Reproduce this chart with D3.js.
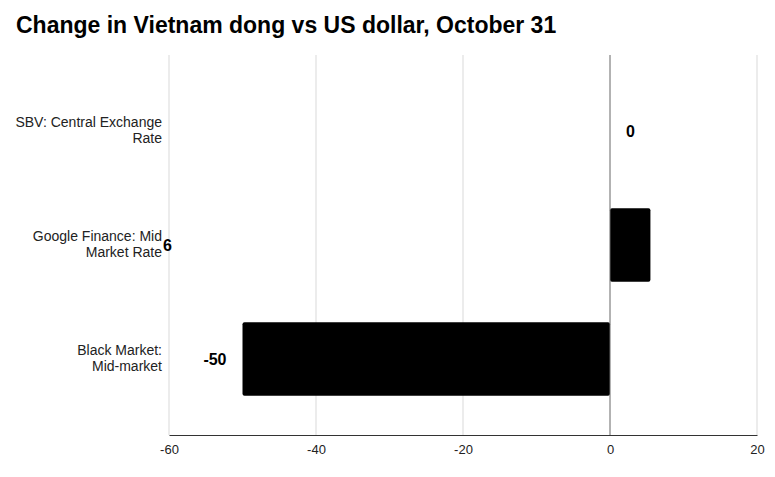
<!DOCTYPE html>
<html>
<head>
<meta charset="utf-8">
<script src="https://cdn.jsdelivr.net/npm/d3@7"></script>
<style>
  html, body { margin: 0; padding: 0; background: #fff; }
  svg { display: block; font-family: "Liberation Sans", Arial, sans-serif; }
</style>
</head>
<body>
<svg id="chart" width="775" height="477"></svg>
<script>
const title = "Change in Vietnam dong vs US dollar, October 31";
const categories = ["SBV: Central Exchange Rate", "Google Finance: Mid Market Rate", "Black Market: Mid-market"];
const values = [0, 5.5, -50];
const valueLabels = ["0", "6", "-50"];
const xTicks = [-60, -40, -20, 0, 20];

const svg = d3.select("#chart");
const plot = { left: 169, right: 757, top: 55, bottom: 435 };

svg.append("text")
  .attr("x", 16).attr("y", 33)
  .attr("font-size", 23).attr("font-weight", "bold").attr("fill", "#000")
  .text(title);

const x = d3.scaleLinear().domain([-60, 20]).range([plot.left, plot.right]);
const y = d3.scaleBand().domain(categories).range([plot.top, plot.bottom])
  .paddingInner(0.355).paddingOuter(0.344);

// gridlines
svg.append("g").selectAll("line").data(xTicks.filter(t => t !== 0)).join("line")
  .attr("x1", d => x(d)).attr("x2", d => x(d))
  .attr("y1", plot.top).attr("y2", plot.bottom)
  .attr("stroke", "#d9d9d9").attr("stroke-width", 1);

// bars
svg.append("g").selectAll("rect").data(categories).join("rect")
  .attr("x", (d, i) => x(Math.min(0, values[i])))
  .attr("width", (d, i) => Math.abs(x(values[i]) - x(0)))
  .attr("y", d => y(d))
  .attr("height", y.bandwidth())
  .attr("rx", 2).attr("ry", 2)
  .attr("fill", "#000");

// zero line
svg.append("line")
  .attr("x1", x(0)).attr("x2", x(0))
  .attr("y1", plot.top).attr("y2", plot.bottom)
  .attr("stroke", "#666").attr("stroke-width", 1);

// x axis
const xAxis = svg.append("g").attr("transform", `translate(0,${plot.bottom})`)
  .call(d3.axisBottom(x).tickValues(xTicks).tickSize(0).tickPadding(10).tickFormat(d => String(d)));
xAxis.select(".domain").attr("stroke", "#333").attr("stroke-width", 1);
xAxis.selectAll("text").attr("font-size", 13).attr("fill", "#222")
  .attr("font-family", "Liberation Sans, Arial, sans-serif");

// category labels (wrapped)
const catG = svg.append("g");
categories.forEach((c, i) => {
  const cy = y(c) + y.bandwidth() / 2;
  const t = catG.append("text")
    .attr("text-anchor", "end").attr("font-size", 14).attr("fill", "#222");
  const words = c.split(" ");
  let lines = [], cur = [];
  const probe = t.append("tspan");
  words.forEach(w => {
    const trial = cur.concat([w]).join(" ");
    probe.text(trial);
    if (probe.node().getComputedTextLength() > 148 && cur.length) {
      lines.push(cur.join(" ")); cur = [w];
    } else cur.push(w);
  });
  lines.push(cur.join(" "));
  probe.remove();
  const lh = 16;
  const startY = cy - (lines.length - 1) * lh / 2 - 0.5;
  lines.forEach((ln, k) => {
    t.append("tspan").attr("x", plot.left - 7)
      .attr("y", startY + k * lh).attr("dy", "0.35em").text(ln);
  });
});

// value labels
svg.append("g").selectAll("text").data(categories).join("text")
  .attr("font-size", 16).attr("font-weight", "bold").attr("fill", "#000")
  .attr("dy", "0.35em")
  .attr("y", d => y(d) + y.bandwidth() / 2)
  .attr("x", (d, i) => values[i] < 0 ? x(values[i]) - 16 : (values[i] === 0 ? x(0) + 16 : x(-60) - 6))
  .attr("text-anchor", (d, i) => values[i] < 0 ? "end" : "start")
  .text((d, i) => valueLabels[i]);
</script>
</body>
</html>
